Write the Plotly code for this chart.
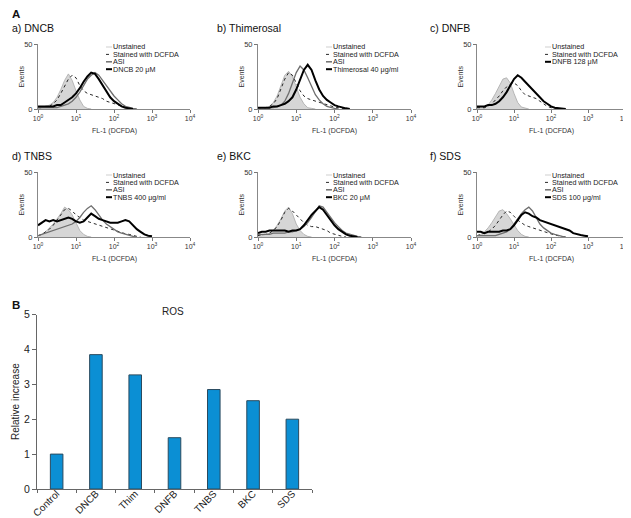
import plotly.graph_objects as go

W, H = 631, 518
FONT = "Liberation Sans, Arial, sans-serif"

# FL-1 channel positions (log-spaced bins, 0.1 decade)
FL1 = [1.0, 1.259, 1.585, 1.995, 2.512, 3.162, 3.981, 5.012, 6.31, 7.943,
       10.0, 12.59, 15.85, 19.95, 25.12, 31.62, 39.81, 50.12, 63.1, 79.43,
       100.0, 125.9, 158.5, 199.5, 251.2, 316.2, 398.1, 501.2, 631.0, 794.3, 1000.0]

# a) DNCB
a_unst = [1, 1, 2, 3, 5, 9, 15, 22, 27, 22, 14, 7, 2, 0.5, 0]
a_stain = [1, 1, 2, 2, 4, 7, 12, 18, 23, 26, 24, 18, 14, 12, 11, 10, 9, 8, 6, 5, 4, 3, 2, 1, 0.5, 0]
a_asi = [1, 1, 1, 1, 1, 1, 2, 3, 4, 6, 9, 13, 18, 23, 26, 28, 26, 22, 18, 14, 10, 7, 4, 2, 1, 0.5, 0]
a_trt = [2, 2, 2, 2, 2, 3, 3, 5, 7, 9, 12, 16, 21, 25, 28, 27, 23, 18, 13, 9, 6, 4, 2, 1, 0.5, 0]
# b) Thimerosal
b_unst = [1, 1, 1, 2, 5, 10, 18, 26, 29, 25, 17, 9, 4, 1, 0.5, 0]
b_stain = [1, 1, 1, 2, 4, 8, 15, 23, 28, 26, 20, 14, 10, 8, 7, 6, 5, 4, 3, 2, 1.5, 1, 0.5, 0]
b_asi = [1, 1, 1, 1, 1, 2, 3, 6, 12, 20, 28, 33, 30, 24, 17, 11, 7, 4, 2, 1, 0.5, 0]
b_trt = [1, 1, 1, 1, 2, 2, 3, 4, 6, 9, 15, 22, 30, 34, 30, 22, 15, 10, 7, 5, 3, 2, 1, 0.5, 0]
# c) DNFB
c_unst = [1, 1, 1, 3, 7, 12, 18, 23, 24, 20, 12, 5, 1.5, 0.5, 0]
c_stain = [1, 1, 1, 2, 4, 7, 10, 14, 17, 19, 20, 18, 14, 11, 10, 9, 8, 6, 4, 2, 1, 0.5, 0]
c_trt = [2, 2, 2, 3, 3, 4, 6, 9, 13, 18, 23, 26, 24, 21, 18, 15, 12, 9, 6, 4, 2, 1, 0.5, 0.5, 0]
# d) TNBS
d_unst = [1, 2, 4, 7, 10, 14, 18, 23, 21, 17, 11, 5, 2, 0.5, 0]
d_stain = [1, 2, 4, 6, 9, 13, 17, 21, 22, 20, 17, 15, 13, 12, 11, 10, 9, 8, 7, 6, 5, 4, 3, 2.5, 2, 1, 0.5, 0]
d_asi = [1, 2, 3, 4, 5, 6, 7, 8, 9, 10, 12, 15, 19, 22, 24, 21, 17, 13, 10, 8, 6, 4, 3, 2, 1, 0.5, 0]
d_trt = [9, 11, 13, 12, 13, 12, 13, 14, 15, 14, 12, 11, 12, 15, 18, 16, 14, 13, 12, 11, 11, 11, 12, 13, 12, 9, 6, 4, 2, 1, 0.5]
# e) BKC
e_unst = [1, 1, 2, 3, 5, 9, 14, 20, 23, 18, 10, 5, 2, 0.5, 0]
e_stain = [1, 2, 2, 3, 5, 8, 13, 19, 22, 20, 17, 14, 11, 9, 8, 8, 7, 6, 5, 3, 2, 1, 0.5, 0]
e_asi = [2, 2, 2, 2, 3, 3, 3, 3, 4, 4, 5, 6, 8, 11, 15, 20, 24, 23, 19, 15, 11, 8, 5, 3, 2, 1, 0.5, 0]
e_trt = [3, 4, 4, 5, 5, 5, 5, 5, 4, 5, 5, 6, 9, 13, 17, 20, 23, 21, 17, 13, 9, 6, 4, 2, 1, 0.5, 0]
# f) SDS
f_unst = [1, 2, 4, 7, 11, 16, 20, 21, 18, 14, 9, 5, 2, 0.5, 0]
f_stain = [1, 2, 3, 4, 6, 9, 13, 17, 20, 19, 16, 13, 11, 9, 8, 7, 6, 5, 4, 3, 2, 1.5, 1, 0.5, 0]
f_asi = [1, 1, 1, 1, 1, 1, 2, 3, 4, 6, 10, 14, 18, 21, 23, 20, 15, 10, 7, 5, 3, 2, 1, 0.5, 0]
f_trt = [4, 4, 3, 4, 4, 4, 4, 5, 5, 6, 9, 13, 17, 19, 18, 16, 15, 13, 12, 11, 10, 9, 8, 7, 6, 5, 3, 2, 1.5, 1, 0.5]

panel_titles = ["a) DNCB", "b) Thimerosal", "c) DNFB", "d) TNBS", "e) BKC", "f) SDS"]
treatments = ["DNCB 20 μM", "Thimerosal 40 μg/ml", "DNFB 128 μM",
              "TNBS 400 μg/ml", "BKC 20 μM", "SDS 100 μg/ml"]
decade_ticks = [1, 10, 100, 1000, 10000]
decade_text = ["10<sup>0</sup>", "10<sup>1</sup>", "10<sup>2</sup>", "10<sup>3</sup>", "10<sup>4</sup>"]

# B) ROS bar chart
ros_labels = ["Control", "DNCB", "Thim", "DNFB", "TNBS", "BKC", "SDS"]
ros_values = [1.0, 3.85, 3.27, 1.47, 2.85, 2.53, 2.0]

panel_data = [
    (a_unst, a_stain, a_asi, a_trt),
    (b_unst, b_stain, b_asi, b_trt),
    (c_unst, c_stain, None, c_trt),
    (d_unst, d_stain, d_asi, d_trt),
    (e_unst, e_stain, e_asi, e_trt),
    (f_unst, f_stain, f_asi, f_trt),
]

# layout geometry (pixels)
COLS = [(30, 182), (250, 403), (469, 617)]
ROWS = [(36, 101), (164, 229)]
TITLE_X = [2, 207, 420]


def pxx(x):
    return x / W


def pxy(y):
    return 1 - y / H


fig = go.Figure()
layout = dict(
    width=W, height=H, margin=dict(l=0, r=0, t=0, b=0),
    paper_bgcolor="white", plot_bgcolor="white", showlegend=False,
    font=dict(family=FONT, color="#222"),
)
annotations = []
shapes = []

STY = {
    "unst": dict(color="#a8a8a8", width=0.8),
    "stain": dict(color="#111", width=0.9, dash="dot"),
    "asi": dict(color="#6e6e6e", width=1.3),
    "trt": dict(color="#000", width=2.0),
}
LEG_STY = {
    "unst": dict(color="#cfcfcf", width=1),
    "stain": dict(color="#111", width=0.9, dash="dot"),
    "asi": dict(color="#6e6e6e", width=1.5),
    "trt": dict(color="#000", width=2.0),
}

for k in range(6):
    r, c = divmod(k, 3)
    x0, x1 = COLS[c]
    y0, y1 = ROWS[r]
    idx = k + 1
    xa = "x" if idx == 1 else f"x{idx}"
    ya = "y" if idx == 1 else f"y{idx}"
    unst, stain, asi, trt = panel_data[k]

    fig.add_trace(go.Scatter(x=FL1[:len(unst)], y=unst, mode="lines", line=STY["unst"],
                             fill="tozeroy", fillcolor="#d6d6d6", xaxis=xa, yaxis=ya))
    fig.add_trace(go.Scatter(x=FL1[:len(stain)], y=stain, mode="lines", line=STY["stain"],
                             xaxis=xa, yaxis=ya))
    if asi is not None:
        fig.add_trace(go.Scatter(x=FL1[:len(asi)], y=asi, mode="lines", line=STY["asi"],
                                 xaxis=xa, yaxis=ya))
    fig.add_trace(go.Scatter(x=FL1[:len(trt)], y=trt, mode="lines", line=STY["trt"],
                             xaxis=xa, yaxis=ya))

    layout["xaxis" if idx == 1 else f"xaxis{idx}"] = dict(
        domain=[pxx(x0), pxx(x1)], anchor=ya, type="log", range=[0, 4],
        tickvals=decade_ticks, ticktext=decade_text, ticks="outside", ticklen=3,
        tickcolor="#777", showline=True, linecolor="#888", linewidth=1,
        showgrid=False, zeroline=False, tickfont=dict(size=7, color="#333"),
        automargin=False, fixedrange=True,
    )
    layout["yaxis" if idx == 1 else f"yaxis{idx}"] = dict(
        domain=[pxy(y1), pxy(y0)], anchor=xa, range=[0, 50],
        tickvals=[0, 50], ticks="outside", ticklen=3, tickcolor="#777",
        showline=True, linecolor="#888", linewidth=1, showgrid=False,
        zeroline=False, tickfont=dict(size=7.5, color="#333"), automargin=False,
    )

    # panel title
    annotations.append(dict(text=panel_titles[k], x=pxx(TITLE_X[c]), y=pxy(y0 - 16),
                            xref="paper", yref="paper", xanchor="left", yanchor="middle",
                            showarrow=False, font=dict(size=10.5, color="#111")))
    # axis titles
    annotations.append(dict(text="Events", x=pxx(x0 - 17), y=pxy((y0 + y1) / 2),
                            xref="paper", yref="paper", textangle=-90, showarrow=False,
                            xanchor="center", yanchor="middle",
                            font=dict(size=7, color="#333")))
    annotations.append(dict(text="FL-1 (DCFDA)", x=pxx((x0 + x1) / 2), y=pxy(y1 + 22),
                            xref="paper", yref="paper", showarrow=False,
                            xanchor="center", yanchor="middle",
                            font=dict(size=7, color="#333")))
    # legend
    entries = [("unst", "Unstained"), ("stain", "Stained with DCFDA")]
    if asi is not None:
        entries.append(("asi", "ASI"))
    entries.append(("trt", treatments[k]))
    for j, (key, lab) in enumerate(entries):
        ly = y0 + 3 + j * 7.4
        shapes.append(dict(type="line", xref="paper", yref="paper",
                           x0=pxx(x0 + 68), x1=pxx(x0 + 74), y0=pxy(ly), y1=pxy(ly),
                           line=LEG_STY[key]))
        annotations.append(dict(text=lab, x=pxx(x0 + 74), y=pxy(ly), xref="paper",
                                yref="paper", xanchor="left", yanchor="middle",
                                borderpad=0, showarrow=False,
                                font=dict(size=7.2, color="#222")))

# Section labels
annotations.append(dict(text="<b>A</b>", x=pxx(2), y=pxy(6), xref="paper", yref="paper",
                        xanchor="left", yanchor="middle", showarrow=False,
                        font=dict(size=11.5, color="#111")))
annotations.append(dict(text="<b>B</b>", x=pxx(2), y=pxy(297), xref="paper", yref="paper",
                        xanchor="left", yanchor="middle", showarrow=False,
                        font=dict(size=11.5, color="#111")))

# Bar chart
fig.add_trace(go.Bar(x=ros_labels, y=ros_values, width=0.32,
                     marker=dict(color="#0b8fd4", line=dict(color="#2a4a5e", width=1)),
                     xaxis="x7", yaxis="y7"))
layout["xaxis7"] = dict(domain=[pxx(29), pxx(304)], anchor="y7", type="category",
                        range=[-0.5, 6.5], tickangle=-45, ticks="outside", ticklen=3,
                        tickson="boundaries", tickcolor="#666", showline=True,
                        linecolor="#666", linewidth=1, showgrid=False,
                        ticklabelstandoff=-6,
                        tickfont=dict(size=10, color="#222"), automargin=False)
layout["yaxis7"] = dict(domain=[pxy(481), pxy(306.5)], anchor="x7", range=[0, 5],
                        tickvals=[0, 1, 2, 3, 4, 5], ticks="outside", ticklen=4,
                        tickcolor="#666", showline=True, linecolor="#666", linewidth=1,
                        showgrid=False, zeroline=False,
                        tickfont=dict(size=10.5, color="#222"), automargin=False)
annotations.append(dict(text="ROS", x=pxx(165), y=pxy(303), xref="paper", yref="paper",
                        xanchor="center", yanchor="middle", showarrow=False,
                        font=dict(size=10, color="#222")))
annotations.append(dict(text="Relative increase", x=pxx(7), y=pxy(394), xref="paper",
                        yref="paper", textangle=-90, xanchor="center", yanchor="middle",
                        showarrow=False, font=dict(size=10, color="#222")))

layout["annotations"] = annotations
layout["shapes"] = shapes
fig.update_layout(**layout)
fig.write_html("out.html")
